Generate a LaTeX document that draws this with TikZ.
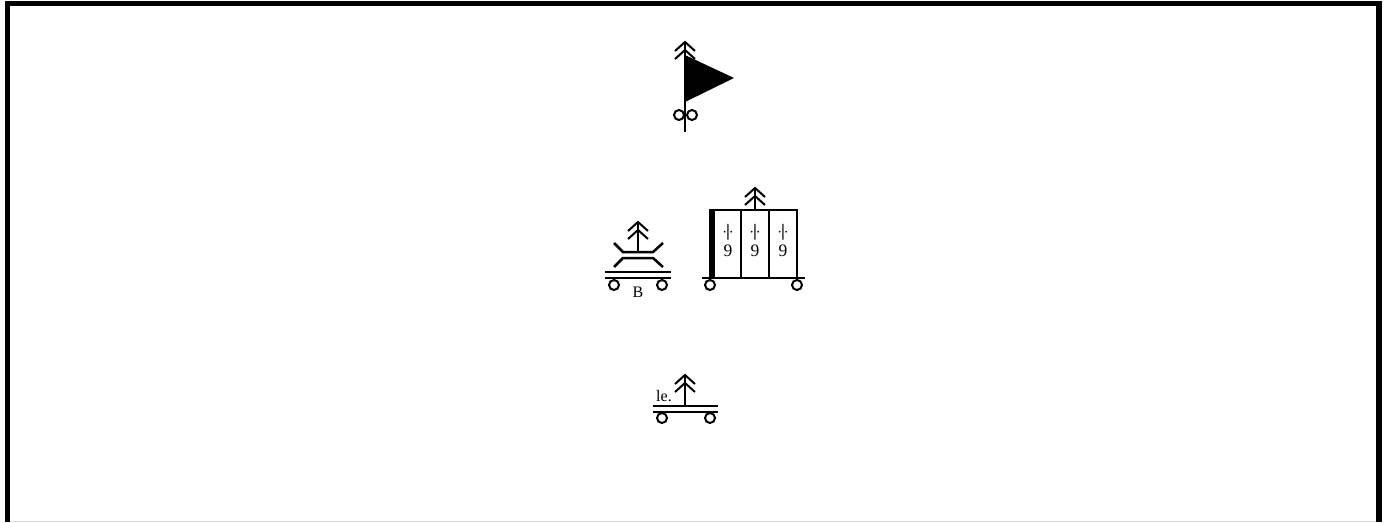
\documentclass[tikz,border=0pt]{standalone}
\usepackage{fontspec}
\setmainfont{Liberation Serif}

\tikzset{
  symline/.style={line width=2.5pt},
  thinline/.style={line width=2pt},
  symtext/.style={font=\fontsize{16}{16}\selectfont, inner sep=0pt},
  numtext/.style={font=\fontsize{17.5}{17.5}\selectfont, inner sep=0pt},
  pics/feather/.style={code={
    \draw[thinline] (-10,9) -- (0,0) -- (10,9);
    \draw[thinline] (-10,17) -- (0,8) -- (10,17);
  }},
  pics/wheel/.style={code={
    \draw[thinline] (0,0) circle (5pt);
  }},
}
\newcommand{\tickmark}{$\cdot$\kern-1pt\textbf{|}\kern-1pt$\cdot$}

\begin{document}
\begin{tikzpicture}[x=1pt, y=-1pt]
  \useasboundingbox (0,0) rectangle (1388,522);
  \fill[white] (0,0) rectangle (1388,522);
  % cadre
  \draw[black!15, line width=1pt] (10,521.5) -- (1376,521.5);
  \draw[line width=5.5pt] (7.5,522) -- (7.5,3.5) -- (1379,3.5) -- (1379,522);

  % fanion
  \draw[symline] (685,42) -- (685,132);
  \pic at (685,42) {feather};
  \fill (685,55) -- (734,78) -- (685,102) -- cycle;
  \pic at (679,115) {wheel};
  \pic at (692,115) {wheel};

  % chariot B
  \draw[symline] (638,222) -- (638,252);
  \pic at (638,222) {feather};
  \draw[symline] (614,243) -- (623,252) -- (653,252) -- (663,243);
  \draw[symline] (614,267) -- (623,258) -- (653,258) -- (663,267);
  \draw[symline] (605,272) -- (671,272);
  \draw[symline] (605,278) -- (671,278);
  \pic at (614,285) {wheel};
  \pic at (662,285) {wheel};
  \node[symtext] (labelB) at (638,292) {B};

  % caisse
  \draw[symline] (755,188) -- (755,210);
  \pic at (755,188) {feather};
  \draw[symline] (712,210) -- (797,210) -- (797,278);
  \fill (709,209) rectangle (715,278);
  \draw[symline] (741,210) -- (741,278);
  \draw[symline] (769,210) -- (769,278);
  \draw[symline] (702,278) -- (805,278);
  \pic at (710,285) {wheel};
  \pic at (797,285) {wheel};
  \node[numtext] (tickA) at (728,232) {\tickmark};
  \node[numtext] (tickB) at (755,232) {\tickmark};
  \node[numtext] (tickC) at (783,232) {\tickmark};
  \node[numtext] (nineA) at (728,251) {9};
  \node[numtext] (nineB) at (755,251) {9};
  \node[numtext] (nineC) at (783,251) {9};

  % chariot le.
  \draw[symline] (685,375) -- (685,406);
  \pic at (685,375) {feather};
  \draw[symline] (653,406) -- (718,406);
  \draw[symline] (653,412) -- (718,412);
  \pic at (662,418) {wheel};
  \pic at (710,418) {wheel};
  \node[symtext] (labelLe) at (664,396) {le.};
\end{tikzpicture}
\end{document}
